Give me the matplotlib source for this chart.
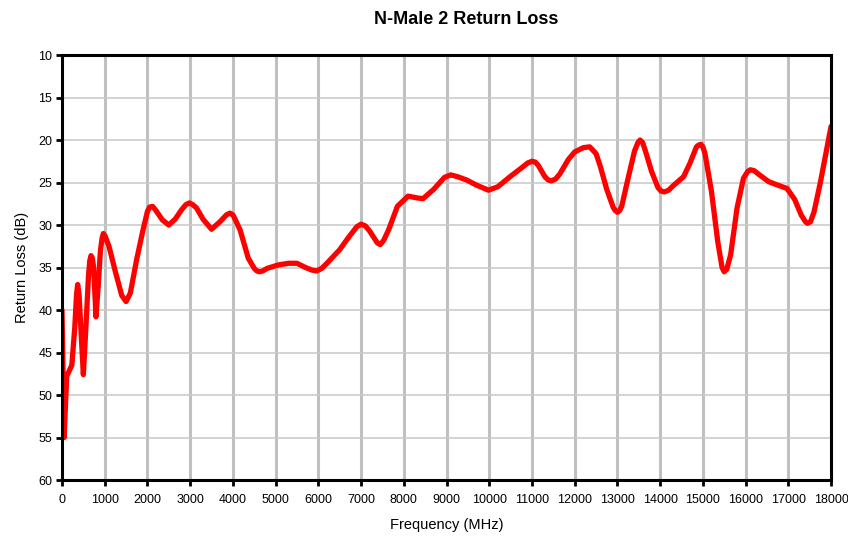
import matplotlib
matplotlib.use("Agg")
import matplotlib.pyplot as plt

plt.rcParams['font.family'] = ['Liberation Sans', 'DejaVu Sans']

# values (freq in MHz, return loss in dB)
freq_mhz = [0, 50, 110, 230, 300, 340, 367, 400, 430, 500, 560, 620, 650, 680, 710,
            740, 796, 850, 900, 940, 968, 1010, 1100, 1250, 1400, 1500, 1600, 1750,
            1900, 2000, 2050, 2120, 2200, 2350, 2500, 2650, 2800, 2900, 2980, 3060,
            3150, 3300, 3500, 3700, 3850, 3930, 4000, 4050, 4170, 4360, 4500, 4560,
            4620, 4700, 4800, 5060, 5300, 5500, 5700, 5850, 5960, 6080, 6200, 6500,
            6700, 6900, 7000, 7100, 7200, 7380, 7450, 7530, 7650, 7850, 8100, 8300,
            8450, 8700, 8950, 9100, 9250, 9470, 9700, 9980, 10200, 10490, 10750,
            10900, 11000, 11080, 11150, 11300, 11380, 11450, 11550, 11650, 11850,
            12000, 12200, 12350, 12500, 12600, 12750, 12900, 12950, 13000, 13050,
            13100, 13250, 13400, 13480, 13530, 13590, 13650, 13800, 13950, 14020,
            14100, 14200, 14300, 14550, 14700, 14850, 14900, 14950, 15000, 15050,
            15200, 15350, 15450, 15500, 15560, 15650, 15800, 15950, 16050, 16110,
            16200, 16300, 16540, 16750, 16970, 17150, 17300, 17400, 17450, 17520,
            17600, 17750, 17900, 18000]
return_loss_db = [40.0, 55.0, 47.8, 46.5, 42.0, 38.2, 37.0, 38.2, 41.0, 47.6, 42.0,
                  36.0, 34.2, 33.6, 33.9, 35.0, 40.8, 37.0, 33.0, 31.5, 31.0, 31.3,
                  32.5, 35.5, 38.3, 39.0, 38.0, 34.0, 30.5, 28.4, 27.9, 27.8, 28.3,
                  29.4, 30.0, 29.3, 28.2, 27.6, 27.4, 27.6, 28.0, 29.3, 30.5, 29.6,
                  28.8, 28.6, 28.8, 29.3, 30.6, 33.9, 35.1, 35.4, 35.5, 35.4, 35.1,
                  34.7, 34.5, 34.5, 35.0, 35.3, 35.4, 35.1, 34.5, 32.9, 31.5, 30.2,
                  29.9, 30.1, 30.7, 32.1, 32.3, 31.8, 30.5, 27.8, 26.6, 26.8, 26.9,
                  25.8, 24.4, 24.1, 24.3, 24.7, 25.3, 25.9, 25.5, 24.3, 23.3, 22.7,
                  22.5, 22.6, 23.0, 24.3, 24.7, 24.8, 24.6, 24.0, 22.3, 21.4, 20.9,
                  20.8, 21.6, 23.1, 25.8, 27.9, 28.3, 28.5, 28.3, 27.8, 24.5, 21.3,
                  20.3, 20.0, 20.3, 21.2, 23.7, 25.6, 26.0, 26.1, 25.9, 25.4, 24.3,
                  22.7, 20.8, 20.6, 20.5, 20.8, 21.6, 26.0, 32.0, 35.0, 35.5, 35.2,
                  33.5, 28.0, 24.5, 23.7, 23.5, 23.6, 24.0, 24.9, 25.3, 25.7, 27.0,
                  28.8, 29.6, 29.8, 29.6, 28.5, 25.0, 21.0, 18.4]

x_ticks = list(range(0, 18001, 1000))
y_ticks = list(range(10, 61, 5))

fig = plt.figure(figsize=(8.48, 5.37), dpi=100)
ax = fig.add_axes([0.0731, 0.1061, 0.9069, 0.7914])

ax.plot(freq_mhz, return_loss_db, color='#ff0000', linewidth=3.8,
        solid_joinstyle='round', solid_capstyle='round', zorder=3)

ax.set_xlim(0, 18000)
ax.set_ylim(60, 10)
ax.set_xticks(x_ticks)
ax.set_yticks(y_ticks)

# vertical grid heavier than horizontal, like the original
for x in x_ticks[1:-1]:
    ax.axvline(x, color='#c0c0c0', linewidth=2.2, zorder=1)
for y in y_ticks[1:-1]:
    ax.axhline(y, color='#c8c8c8', linewidth=1.1, zorder=1)

for s in ax.spines.values():
    s.set_linewidth(2.2)
    s.set_color('black')
    s.set_zorder(4)

ax.tick_params(axis='both', direction='out', length=4, width=2, labelsize=9)
ax.tick_params(axis='x', pad=6)
ax.tick_params(axis='y', pad=3)

ax.set_xlabel('Frequency (MHz)', fontsize=10.5, labelpad=9)
ax.set_ylabel('Return Loss (dB)', fontsize=10.5, labelpad=7)

fig.text(466 / 848, 1 - 19 / 537, 'N-Male 2 Return Loss', fontsize=13,
         fontweight='bold', ha='center', va='center')

fig.savefig('out.png', dpi=100)
